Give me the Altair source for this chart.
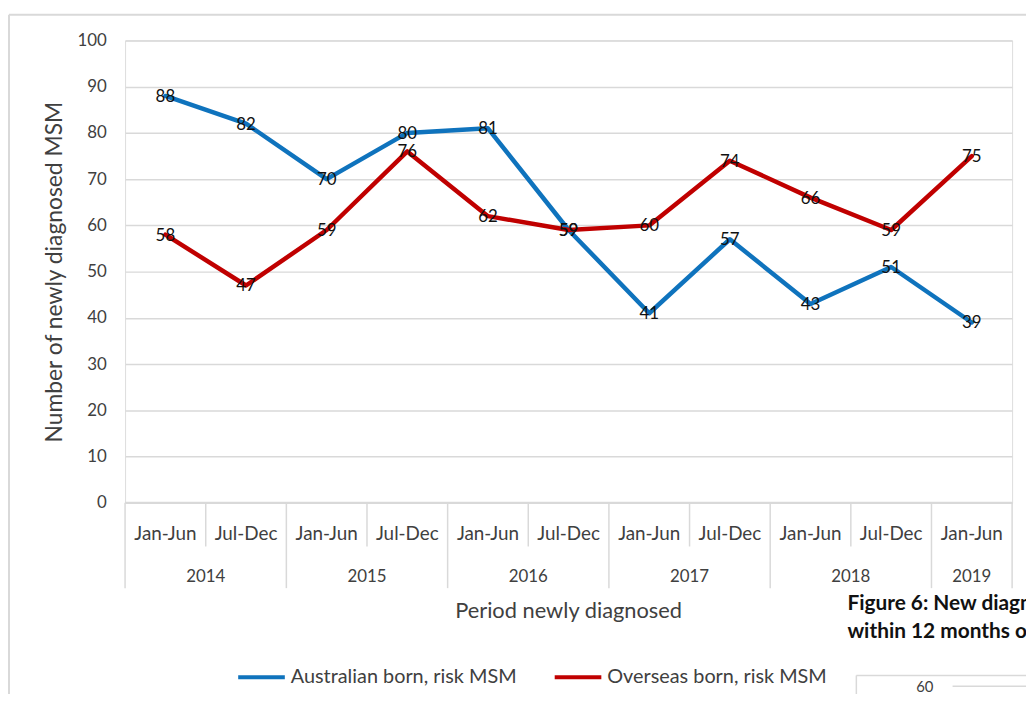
import altair as alt
import pandas as pd

halves = ["Jan-Jun", "Jul-Dec", "Jan-Jun", "Jul-Dec", "Jan-Jun", "Jul-Dec",
          "Jan-Jun", "Jul-Dec", "Jan-Jun", "Jul-Dec", "Jan-Jun"]
years = ["2014", "2014", "2015", "2015", "2016", "2016",
         "2017", "2017", "2018", "2018", "2019"]
australian = [88, 82, 70, 80, 81, 59, 41, 57, 43, 51, 39]
overseas = [58, 47, 59, 76, 62, 59, 60, 74, 66, 59, 75]
series_names = ["Australian born, risk MSM", "Overseas born, risk MSM"]
series_colors = ["#0f73bd", "#c00000"]

FONT = "Lato"
W, H = 894, 466
N = len(halves)

rows = []
for i in range(N):
    rows.append({"pos": i + 0.5, "series": series_names[0], "value": australian[i]})
    rows.append({"pos": i + 0.5, "series": series_names[1], "value": overseas[i]})
df = pd.DataFrame(rows)

cat_df = pd.DataFrame({"pos": [i + 0.5 for i in range(N)], "half": halves})

year_df = []
for y in dict.fromkeys(years):
    idx = [i for i, v in enumerate(years) if v == y]
    year_df.append({"pos": (idx[0] + idx[-1] + 1) / 2, "year": y})
year_df = pd.DataFrame(year_df)

long_b, short_b = [], []
for b in range(N + 1):
    if b == 0 or b == N or years[b] != years[b - 1]:
        long_b.append({"b": b})
    else:
        short_b.append({"b": b})
long_df = pd.DataFrame(long_b)
short_df = pd.DataFrame(short_b)

xscale = alt.Scale(domain=[0, N], range=[0, W], nice=False, zero=False)
yscale = alt.Scale(domain=[0, 100], nice=False)
color = alt.Color("series:N", scale=alt.Scale(domain=series_names, range=series_colors),
                  legend=alt.Legend(orient="none", legendX=112, legendY=616,
                                    direction="horizontal", title=None,
                                    symbolType="stroke", symbolStrokeWidth=4,
                                    symbolSize=2209, labelFont=FONT, labelFontSize=20,
                                    labelColor="#404040", labelOffset=4,
                                    columnPadding=30, labelLimit=400))

base = alt.Chart(df)

lines = base.mark_line(strokeWidth=4.5, strokeCap="round", strokeJoin="round").encode(
    x=alt.X("pos:Q", scale=xscale, axis=None),
    y=alt.Y("value:Q", scale=yscale,
            axis=alt.Axis(values=list(range(0, 101, 10)), grid=True, gridColor="#d9d9d9",
                          gridWidth=1.5, domain=False, ticks=False, labelPadding=19,
                          labelFont=FONT, labelFontSize=17, labelColor="#404040",
                          title="Number of newly diagnosed MSM", titleFont=FONT,
                          titleFontSize=23, titleFontWeight="normal", titleColor="#404040",
                          titleX=-71, titleY=H / 2, titleAngle=-90, titleAlign="center",
                          titleBaseline="middle")),
    color=color,
)

labels = base.mark_text(font=FONT, fontSize=17, color="#111111", baseline="middle",
                        align="center", dy=1).encode(
    x=alt.X("pos:Q", scale=xscale, axis=None),
    y=alt.Y("value:Q", scale=yscale),
    text=alt.Text("value:Q"),
    detail="series:N",
)

one = pd.DataFrame({"t": [0]})
GRID = "#d9d9d9"

zero_line = alt.Chart(pd.DataFrame({"v": [0]})).mark_rule(color=GRID, strokeWidth=2).encode(
    y=alt.Y("v:Q", scale=yscale), x=alt.value(0), x2=alt.value(W))

short_sep = alt.Chart(short_df).mark_rule(color=GRID, strokeWidth=1.5).encode(
    x=alt.X("b:Q", scale=xscale, axis=None), y=alt.value(H), y2=alt.value(H + 44))
long_sep = alt.Chart(long_df).mark_rule(color=GRID, strokeWidth=1.5).encode(
    x=alt.X("b:Q", scale=xscale, axis=None), y=alt.value(H), y2=alt.value(H + 86))

half_text = alt.Chart(cat_df).mark_text(font=FONT, fontSize=19, color="#404040",
                                        baseline="middle").encode(
    x=alt.X("pos:Q", scale=xscale, axis=None), y=alt.value(H + 31), text="half:N")
year_text = alt.Chart(year_df).mark_text(font=FONT, fontSize=17, color="#404040",
                                         baseline="middle").encode(
    x=alt.X("pos:Q", scale=xscale, axis=None), y=alt.value(H + 75), text="year:N")

xtitle = alt.Chart(pd.DataFrame({"t": ["Period newly diagnosed"]})).mark_text(
    font=FONT, fontSize=22, color="#404040", baseline="middle").encode(
    x=alt.value(W / 2), y=alt.value(H + 109), text="t:N")

# outer chart frame (page x=8, y=12)
frame_top = alt.Chart(one).mark_rule(color=GRID, strokeWidth=2).encode(
    x=alt.value(-117), x2=alt.value(W + 20), y=alt.value(-26))
frame_left = alt.Chart(one).mark_rule(color=GRID, strokeWidth=2).encode(
    x=alt.value(-117), y=alt.value(-26), y2=alt.value(H + 220))

# neighbouring figure (cut off at right)
cover = alt.Chart(one).mark_rect(color="white").encode(
    x=alt.value(710), x2=alt.value(W + 20), y=alt.value(H + 88), y2=alt.value(H + 220))
cap1 = alt.Chart(pd.DataFrame({"t": ["Figure 6: New diagnoses"]})).mark_text(
    font=FONT, fontSize=21, fontWeight="bold", color="#111111", align="left",
    baseline="middle").encode(x=alt.value(728), y=alt.value(H + 102), text="t:N")
cap2 = alt.Chart(pd.DataFrame({"t": ["within 12 months of"]})).mark_text(
    font=FONT, fontSize=21, fontWeight="bold", color="#111111", align="left",
    baseline="middle").encode(x=alt.value(728), y=alt.value(H + 130), text="t:N")
fig_box_top = alt.Chart(one).mark_rule(color=GRID, strokeWidth=1.5).encode(
    x=alt.value(737), x2=alt.value(W + 20), y=alt.value(H + 174))
fig_box_left = alt.Chart(one).mark_rule(color=GRID, strokeWidth=1.5).encode(
    x=alt.value(737), y=alt.value(H + 174), y2=alt.value(H + 220))
fig_grid = alt.Chart(one).mark_rule(color=GRID, strokeWidth=1.5).encode(
    x=alt.value(834), x2=alt.value(W + 20), y=alt.value(H + 185))
fig_tick = alt.Chart(pd.DataFrame({"t": ["60"]})).mark_text(
    font=FONT, fontSize=15, color="#404040", baseline="middle").encode(
    x=alt.value(806), y=alt.value(H + 186), text="t:N")

chart = alt.layer(
    lines, labels, zero_line, short_sep, long_sep, half_text, year_text, xtitle,
    frame_top, frame_left,
    cover, cap1, cap2, fig_box_top, fig_box_left, fig_grid, fig_tick,
).properties(
    width=W, height=H,
    padding={"left": 118, "top": 30, "right": 14, "bottom": 190},
    autosize=alt.AutoSizeParams(type="none"),
).configure_view(strokeWidth=0).configure(background="white")

chart.save("out.html", embed_options={"renderer": "svg", "actions": False})
